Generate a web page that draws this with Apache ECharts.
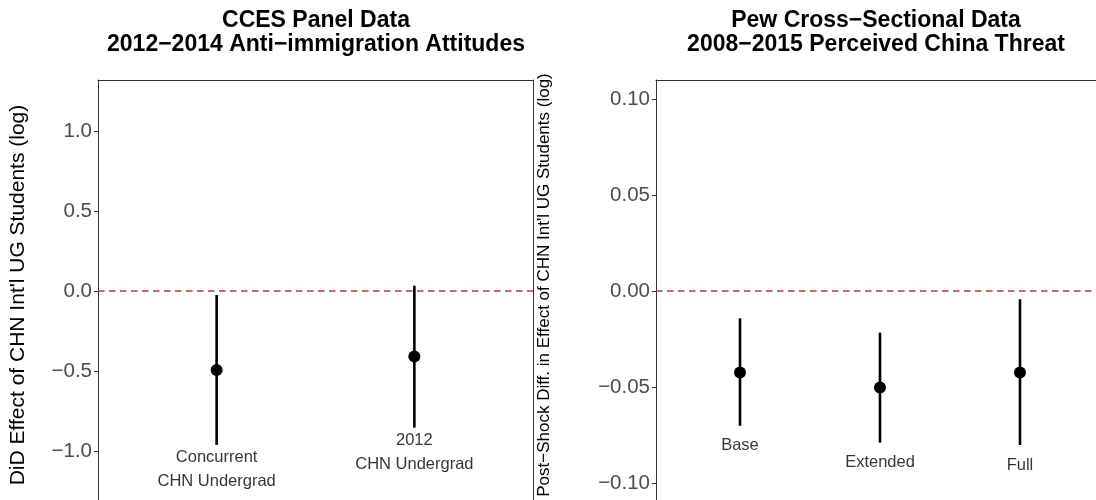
<!DOCTYPE html>
<html>
<head>
<meta charset="utf-8">
<script src="https://cdn.jsdelivr.net/npm/echarts@6/dist/echarts.min.js"></script>
<style>
html,body{margin:0;padding:0;background:#fff;}
#chart{width:1096px;height:500px;}
</style>
</head>
<body>
<div id="chart"></div>
<script>
// ---- Data ----
const ccesTitle = 'CCES Panel Data\n2012\u22122014 Anti\u2212immigration Attitudes';
const pewTitle = 'Pew Cross\u2212Sectional Data\n2008\u22122015 Perceived China Threat';
const ccesYName = "DiD Effect of CHN Int'l UG Students (log)";
const pewYName = "Post\u2212Shock Diff. in Effect of CHN Int'l UG Students (log)";

const ccesLabels = ['Concurrent\nCHN Undergrad', '2012\nCHN Undergrad'];
const ccesX = [1, 2];
const ccesEst = [-0.494, -0.41];
const ccesLo = [-0.962, -0.854];
const ccesHi = [-0.025, 0.033];
const ccesTicks = [-1.0, -0.5, 0.0, 0.5, 1.0];

const pewLabels = ['Base', 'Extended', 'Full'];
const pewX = [1, 2, 3];
const pewEst = [-0.0424, -0.0503, -0.0424];
const pewLo = [-0.0702, -0.0790, -0.0802];
const pewHi = [-0.0142, -0.0217, -0.0043];
const pewTicks = [-0.10, -0.05, 0.00, 0.05, 0.10];

const refLine = [0];

// ---- Chart ----
const FONT = 'Liberation Sans, Arial, Helvetica, sans-serif';
const BORDER = '#333333';
const fmtMinus = (v, d) => {
  const s = Math.abs(v) < 1e-12 ? (0).toFixed(d) : Math.abs(v).toFixed(d);
  return (v < -1e-12 ? '\u2212' : '') + s;
};

function refSeries(idx) {
  return {
    type: 'custom', xAxisIndex: idx, yAxisIndex: idx, silent: true,
    data: refLine.map(v => [v]),
    encode: { y: 0 },
    renderItem: function (params, api) {
      const cs = params.coordSys;
      const p = api.coord([0, api.value(0)]);
      return { type: 'line', shape: { x1: cs.x, y1: p[1], x2: cs.x + cs.width, y2: p[1] },
        style: { stroke: '#b83a40', lineWidth: 1.4, lineDash: [6.5, 4.5] } };
    },
    z: 2
  };
}
function errSeries(idx, xs, lo, hi) {
  return {
    type: 'custom', xAxisIndex: idx, yAxisIndex: idx, silent: true,
    data: xs.map((x, i) => [x, lo[i], hi[i]]),
    renderItem: function (params, api) {
      const a = api.coord([api.value(0), api.value(1)]);
      const b = api.coord([api.value(0), api.value(2)]);
      return { type: 'line', shape: { x1: a[0], y1: a[1], x2: b[0], y2: b[1] },
        style: { stroke: '#000', lineWidth: 2.6 } };
    },
    z: 3
  };
}
function estSeries(idx, xs, est) {
  return {
    type: 'scatter', xAxisIndex: idx, yAxisIndex: idx, silent: true,
    symbol: 'circle', symbolSize: 12,
    itemStyle: { color: '#000', opacity: 1 },
    data: xs.map((x, i) => [x, est[i]]),
    z: 4
  };
}
function labelSeries(idx, xs, lo, labels, dist) {
  return {
    type: 'scatter', xAxisIndex: idx, yAxisIndex: idx, silent: true,
    symbolSize: 0,
    data: xs.map((x, i) => ({ value: [x, lo[i]], name: labels[i] })),
    label: {
      show: true, position: 'bottom', distance: dist,
      formatter: p => p.name,
      color: '#000', fontSize: 16.5, fontFamily: FONT, lineHeight: 24, align: 'center'
    },
    z: 5
  };
}
function yAxisCfg(idx, min, max, ticks, d) {
  return {
    type: 'value', gridIndex: idx, min: min, max: max, position: 'left',
    axisLine: { show: true, onZero: false, lineStyle: { color: BORDER, width: 1 } },
    splitLine: { show: false },
    axisTick: { show: true, length: 4, lineStyle: { color: BORDER, width: 1 }, customValues: ticks },
    axisLabel: { show: true, customValues: ticks, color: '#4d4d4d', fontSize: 20.5, fontFamily: FONT, margin: 6,
      formatter: v => fmtMinus(v, d) }
  };
}
function borderYAxis(idx, min, max) {
  return {
    type: 'value', gridIndex: idx, min: min, max: max, position: 'right',
    axisLine: { show: true, onZero: false, lineStyle: { color: BORDER, width: 1 } },
    axisTick: { show: false }, axisLabel: { show: false }, splitLine: { show: false }
  };
}
function xAxisCfg(idx, min, max) {
  return {
    type: 'value', gridIndex: idx, min: min, max: max, position: 'top',
    axisLine: { show: true, onZero: false, lineStyle: { color: BORDER, width: 1 } },
    axisTick: { show: false }, axisLabel: { show: false }, splitLine: { show: false }
  };
}

const chart = echarts.init(document.getElementById('chart'), null, { renderer: 'canvas' });
chart.setOption({
  animation: false,
  backgroundColor: '#fff',
  grid: [
    { left: 98, top: 80, width: 435, height: 420, show: false },
    { left: 656, top: 80, width: 440, height: 420, show: false }
  ],
  xAxis: [ xAxisCfg(0, 0.4, 2.6), xAxisCfg(1, 0.4, 3.543) ],
  yAxis: [
    yAxisCfg(0, -1.30625, 1.31875, ccesTicks, 1),
    yAxisCfg(1, -0.10885, 0.1099, pewTicks, 2),
    borderYAxis(0, -1.30625, 1.31875)
  ],
  graphic: [
    { type: 'text', x: 316, y: 33, silent: true,
      style: { text: ccesTitle, font: 'bold 23px ' + FONT, fill: '#000', align: 'center', verticalAlign: 'middle', textAlign: 'center', textVerticalAlign: 'middle', lineHeight: 24 } },
    { type: 'text', x: 876, y: 33, silent: true,
      style: { text: pewTitle, font: 'bold 23px ' + FONT, fill: '#000', align: 'center', verticalAlign: 'middle', textAlign: 'center', textVerticalAlign: 'middle', lineHeight: 24 } },
    { type: 'text', x: 18, y: 295, rotation: Math.PI / 2, silent: true,
      style: { text: ccesYName, font: '21px ' + FONT, fill: '#000', align: 'center', verticalAlign: 'middle', textAlign: 'center', textVerticalAlign: 'middle' } },
    { type: 'text', x: 544, y: 285, rotation: Math.PI / 2, silent: true,
      style: { text: pewYName, font: '17px ' + FONT, fill: '#000', align: 'center', verticalAlign: 'middle', textAlign: 'center', textVerticalAlign: 'middle' } }
  ],
  series: [
    refSeries(0),
    errSeries(0, ccesX, ccesLo, ccesHi),
    estSeries(0, ccesX, ccesEst),
    labelSeries(0, ccesX, ccesLo, ccesLabels, 1),
    refSeries(1),
    errSeries(1, pewX, pewLo, pewHi),
    estSeries(1, pewX, pewEst),
    labelSeries(1, pewX, pewLo, pewLabels, 8)
  ]
});
</script>
</body>
</html>
